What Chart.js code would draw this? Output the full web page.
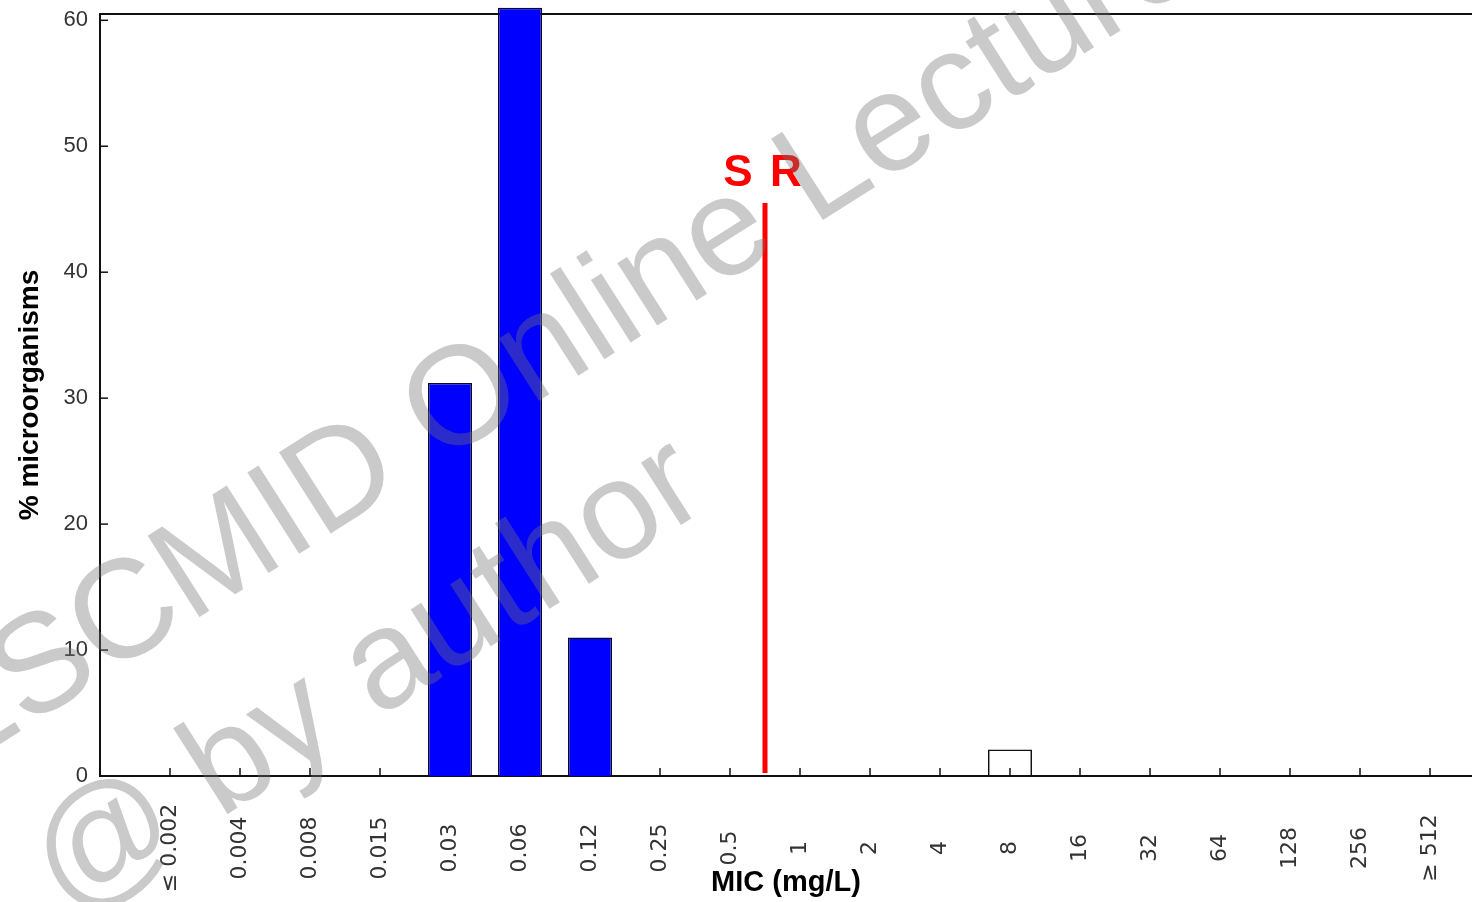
<!DOCTYPE html>
<html>
<head>
<meta charset="utf-8">
<script src="https://cdn.jsdelivr.net/npm/chart.js@4"></script>
<style>
  html, body { margin: 0; padding: 0; background: #fff; overflow: hidden; }
</style>
</head>
<body>
<canvas id="micChart" width="1472" height="902"></canvas>
<script>
// MIC classes (mg/L) and % of isolates per class
const micLabels = ['≤ 0.002', '0.004', '0.008', '0.015', '0.03', '0.06', '0.12', '0.25', '0.5',
  '1', '2', '4', '8', '16', '32', '64', '128', '256', '≥ 512'];
const mainPct = [0, 0, 0, 0, 31.2, 61, 11, 0, 0, 0, 0, 0, 0, 0, 0, 0, 0, 0, 0];
const outlierPct = [0, 0, 0, 0, 0, 0, 0, 0, 0, 0, 0, 0, 2.1, 0, 0, 0, 0, 0, 0];
const yTicks = [0, 10, 20, 30, 40, 50, 60];
// S/R breakpoint sits between these two classes
const bpLow = '0.5';
const bpHigh = '1';
const bpTop = 45.5;

const font = '"Liberation Sans", Arial, sans-serif';

const overlay = {
  id: 'overlay',
  beforeDatasetsDraw(chart) {
    const { ctx, chartArea: a, scales: { x, y } } = chart;
    ctx.save();
    ctx.strokeStyle = '#111';
    ctx.lineWidth = 2;
    // top frame line
    ctx.beginPath();
    ctx.moveTo(a.left, a.top);
    ctx.lineTo(a.right, a.top);
    ctx.stroke();

    // inward tick marks
    ctx.lineWidth = 1.5;
    yTicks.forEach(v => {
      const py = y.getPixelForValue(v);
      ctx.beginPath();
      ctx.moveTo(a.left, py);
      ctx.lineTo(a.left + 8, py);
      ctx.stroke();
    });
    micLabels.forEach((_, i) => {
      const px = x.getPixelForValue(i);
      ctx.beginPath();
      ctx.moveTo(px, a.bottom);
      ctx.lineTo(px, a.bottom - 8);
      ctx.stroke();
    });

    // rotated category labels, centred under each tick
    ctx.fillStyle = '#333';
    ctx.font = '22px "DejaVu Sans", sans-serif';
    ctx.textAlign = 'center';
    ctx.textBaseline = 'middle';
    micLabels.forEach((lab, i) => {
      ctx.save();
      ctx.translate(x.getPixelForValue(i), a.bottom + 72);
      ctx.rotate(-Math.PI / 2);
      ctx.fillText(lab, 0, 0);
      ctx.restore();
    });
    ctx.restore();
  },
  afterDatasetsDraw(chart) {
    const { ctx, scales: { x, y } } = chart;
    const bp = (micLabels.indexOf(bpLow) + micLabels.indexOf(bpHigh)) / 2;
    const px = x.getPixelForValue(bp);
    const top = y.getPixelForValue(bpTop);
    ctx.save();
    ctx.strokeStyle = '#ff0000';
    ctx.lineWidth = 5;
    ctx.beginPath();
    ctx.moveTo(px, y.getPixelForValue(0) - 3);
    ctx.lineTo(px, top);
    ctx.stroke();

    ctx.fillStyle = '#ff0000';
    ctx.font = 'bold 44px ' + font;
    ctx.textAlign = 'center';
    ctx.textBaseline = 'alphabetic';
    ctx.fillText('S', px - 27, top - 17);
    ctx.fillText('R', px + 21, top - 17);
    ctx.restore();
  },
  afterDraw(chart) {
    // watermark
    const { ctx } = chart;
    ctx.save();
    ctx.translate(-53, 778);
    ctx.rotate(-32.5 * Math.PI / 180);
    ctx.font = '140px ' + font;
    ctx.fillStyle = 'rgba(115,115,115,0.38)';
    ctx.textBaseline = 'alphabetic';
    ctx.fillText('ESCMID Online Lecture Library', 0, 0);
    ctx.fillText('@ by author', 27, 181);
    ctx.restore();
  }
};

const ctx = document.getElementById('micChart').getContext('2d');
new Chart(ctx, {
  type: 'bar',
  data: {
    datasets: [{
      data: mainPct.map((v, i) => ({ x: i, y: v })),
      backgroundColor: '#0000ff',
      borderColor: '#0a0a30',
      borderWidth: 1.5,
      grouped: false,
      categoryPercentage: 1,
      barPercentage: 0.63,
      clip: false,
    }, {
      data: outlierPct.map((v, i) => ({ x: i, y: v })),
      backgroundColor: 'rgba(255,255,255,0)',
      borderColor: '#111',
      borderWidth: 1.5,
      grouped: false,
      categoryPercentage: 1,
      barPercentage: 0.63,
    }],
  },
  options: {
    responsive: false,
    animation: false,
    devicePixelRatio: 1,
    layout: { padding: { top: 14, right: 0, bottom: 0, left: 0 } },
    plugins: {
      legend: { display: false },
      tooltip: { enabled: false },
    },
    scales: {
      x: {
        type: 'linear',
        min: -1,
        max: 18.6,
        offset: false,
        grid: { display: false, drawTicks: false },
        border: { display: true, color: '#111', width: 2 },
        ticks: { display: false },
        title: {
          display: true,
          text: 'MIC (mg/L)',
          color: '#000',
          font: { family: font, size: 29, weight: 'bold', lineHeight: 1 },
          padding: { top: 0, bottom: 5 },
        },
        afterFit(scale) { scale.height = 126; },
      },
      y: {
        min: 0,
        max: 60.5,
        grid: { display: false, drawTicks: false },
        border: { display: true, color: '#111', width: 2 },
        ticks: {
          stepSize: 10,
          includeBounds: false,
          padding: 12,
          color: '#333',
          font: { family: font, size: 22 },
        },
        title: {
          display: true,
          text: '% microorganisms',
          color: '#000',
          font: { family: font, size: 28, weight: 'bold', lineHeight: 1 },
          padding: { top: 16, bottom: 0 },
        },
        afterFit(scale) {
          scale.width = 100;
          scale.paddingTop = 0;
          scale.paddingBottom = 0;
        },
      },
    },
  },
  plugins: [overlay],
});
</script>
</body>
</html>
